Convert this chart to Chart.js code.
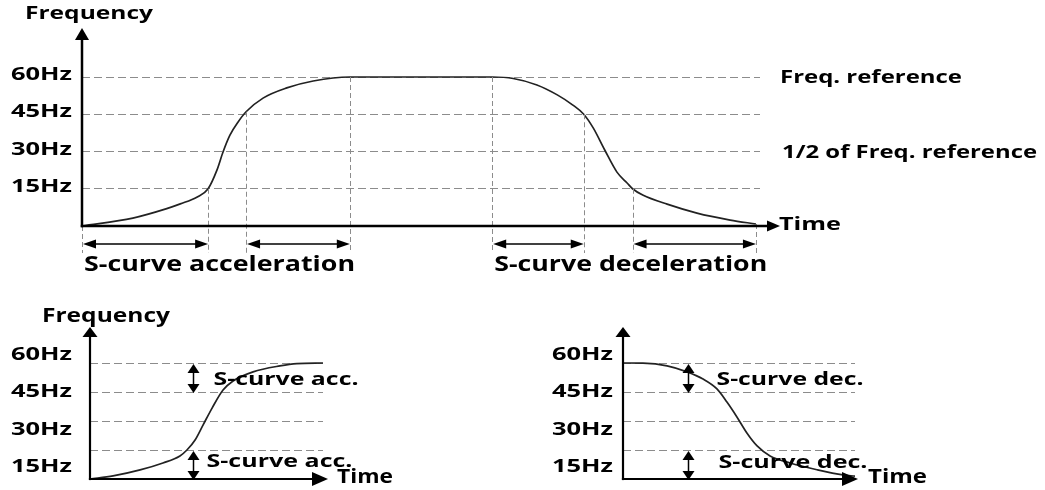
<!DOCTYPE html>
<html>
<head>
<meta charset="utf-8">
<title>S-curve acceleration / deceleration</title>
<script src="https://cdn.jsdelivr.net/npm/chart.js@4.4.1/dist/chart.umd.min.js"></script>
<style>
  html, body { margin: 0; padding: 0; background: #fff; }
  body { width: 1045px; height: 490px; position: relative; overflow: hidden; }
  .box { position: absolute; }
  #box-main { left: 0; top: 0; width: 1045px; height: 290px; }
  #box-acc { left: 0; top: 290px; width: 520px; height: 200px; }
  #box-dec { left: 520px; top: 290px; width: 525px; height: 200px; }
</style>
</head>
<body>
<div class="box" id="box-main"><canvas id="chart-main"></canvas></div>
<div class="box" id="box-acc"><canvas id="chart-acc"></canvas></div>
<div class="box" id="box-dec"><canvas id="chart-dec"></canvas></div>

<script>
'use strict';

// frequency axis
const freqTicks = [15, 30, 45, 60];
const freqLabels = ['15Hz', '30Hz', '45Hz', '60Hz'];

// full profile (time in arbitrary units 0-100, frequency in Hz)
const mainTime = [0, 7.5, 12.5, 14.5, 17.0, 18.6, 19.9, 20.8, 21.8, 23.0, 24.2, 26.7, 30.2, 34.1, 39.5,
                  60.5, 63.6, 67.1, 70.1, 72.4, 74.0, 75.4, 77.1, 78.9, 80.4, 81.2, 82.7, 86.3, 90.7, 95.6, 99.4];
const mainFreq = [0, 3.2, 7.0, 8.9, 11.7, 15, 22.5, 29.8, 36.5, 41.8, 46, 51.5, 55.6, 58.4, 60,
                  60, 59.4, 56.8, 52.8, 48.7, 45, 39.5, 30.6, 21.7, 17.3, 15, 12.5, 8.8, 5.2, 2.4, 0.8];
const accMarks = [0, 18.6, 24.2, 39.5];
const decMarks = [60.5, 74.0, 81.2, 99.4];

// detail: acceleration
const accTime = [0, 9.9, 21.5, 31.3, 38.6, 41.6, 45.1, 48.5, 52.4, 57.1, 61.4, 70.0, 81.5, 88.8, 100];
const accFreq = [0, 1.6, 4.7, 8.3, 11.9, 15, 20.2, 27.9, 36.7, 46, 50.7, 55.4, 58.5, 59.7, 60];

// detail: deceleration
const decTime = [0, 8.6, 19.0, 27.6, 34.5, 40.5, 44.8, 49.1, 53.4, 57.8, 63.4, 72.0, 83.6, 94.8, 100];
const decFreq = [60, 59.9, 58.5, 55.4, 51.7, 46.6, 39.8, 32.1, 23.8, 17.1, 11.9, 8.3, 4.8, 2.1, 1.5];

// S-curve bands marked on the detail charts
const bandRanges = [[45, 60], [0, 15]];
const accBandTime = 44.3;
const decBandTime = 28.1;

const INK = '#000';
const CURVE = '#222';
const GRID = '#8c8c8c';
const FONT = '"Open Sans", "Noto Sans", sans-serif';

// the reference lettering is horizontally stretched, so text is scaled to a width
function drawText(ctx, text, x, y, size, width, align) {
    ctx.save();
    ctx.font = '700 ' + size + 'px ' + FONT;
    const w = ctx.measureText(text).width;
    ctx.translate(x, y);
    ctx.scale(width / w, 1);
    ctx.textAlign = align || 'left';
    ctx.textBaseline = 'middle';
    ctx.fillStyle = INK;
    ctx.fillText(text, 0, 0);
    ctx.restore();
}

function head(ctx, x, y, ang, len, half) {
    const c = Math.cos(ang), s = Math.sin(ang);
    ctx.beginPath();
    ctx.moveTo(x, y);
    ctx.lineTo(x - len * c - half * s, y - len * s + half * c);
    ctx.lineTo(x - len * c + half * s, y - len * s - half * c);
    ctx.closePath();
    ctx.fill();
}

function arrow(ctx, x1, y1, x2, y2, len, half, width, both) {
    const ang = Math.atan2(y2 - y1, x2 - x1);
    const c = Math.cos(ang), s = Math.sin(ang);
    ctx.save();
    ctx.strokeStyle = INK;
    ctx.fillStyle = INK;
    ctx.lineWidth = width;
    ctx.beginPath();
    ctx.moveTo(both ? x1 + c * (len - 1) : x1, both ? y1 + s * (len - 1) : y1);
    ctx.lineTo(x2 - c * (len - 1), y2 - s * (len - 1));
    ctx.stroke();
    head(ctx, x2, y2, ang, len, half);
    if (both) head(ctx, x1, y1, ang + Math.PI, len, half);
    ctx.restore();
}

function axes(ctx, x0, y0, xTip, yTip, xHead, yHead, width) {
    arrow(ctx, x0, y0 + width / 2, x0, yTip, yHead[0], yHead[1], width);
    arrow(ctx, x0 - width / 2, y0, xTip, y0, xHead[0], xHead[1], width);
}

const mainDecor = {
    id: 'mainDecor',
    afterDraw(chart) {
        const { ctx, chartArea: a, scales: { x, y } } = chart;
        const x0 = x.getPixelForValue(0);
        const y0 = y.getPixelForValue(0);

        // dashed guides from the curve down past the time axis
        ctx.save();
        ctx.strokeStyle = GRID;
        ctx.lineWidth = 1;
        ctx.setLineDash([5, 3]);
        accMarks.concat(decMarks).forEach(t => {
            const f = mainFreq[mainTime.indexOf(t)];
            const px = Math.round(x.getPixelForValue(t)) + 0.5;
            ctx.beginPath();
            ctx.moveTo(px, y.getPixelForValue(f));
            ctx.lineTo(px, y0 + 27);
            ctx.stroke();
        });
        ctx.restore();

        [accMarks, decMarks].forEach(m => {
            arrow(ctx, x.getPixelForValue(m[0]) + 1, y0 + 18, x.getPixelForValue(m[1]), y0 + 18, 13, 4.5, 1.5, true);
            arrow(ctx, x.getPixelForValue(m[2]) + 1, y0 + 18, x.getPixelForValue(m[3]), y0 + 18, 13, 4.5, 1.5, true);
        });

        drawText(ctx, 'Time', a.right + 19, y0 - 1, 18, 62, 'left');
        axes(ctx, x0, y0, a.right + 20, a.top - 49, [13, 5.5], [12, 7], 2.5);

        drawText(ctx, 'Frequency', a.left - 57, a.top - 63, 18, 128, 'left');
        freqTicks.forEach((v, i) => {
            drawText(ctx, freqLabels[i], a.left - 10, y.getPixelForValue(v) - 2, 18, 61, 'right');
        });
        drawText(ctx, 'Freq. reference', a.right + 20, y.getPixelForValue(60) + 1, 18, 182, 'left');
        drawText(ctx, '1/2 of Freq. reference', a.right + 22, y.getPixelForValue(30) + 1, 18, 255, 'left');
        drawText(ctx, 'S-curve acceleration', x.getPixelForValue(accMarks[0]) + 2, y0 + 39, 22, 271, 'left');
        drawText(ctx, 'S-curve deceleration', x.getPixelForValue(decMarks[0]) + 2, y0 + 39, 22, 273, 'left');
    }
};

// tick labels of the small charts sit on a wider pitch than their grid
const LABEL_PITCH = 37.5;

function detailDecor(id, bandTime, text, opts) {
    return {
        id: id,
        afterDraw(chart) {
            const { ctx, chartArea: a, scales: { x, y } } = chart;
            const x0 = x.getPixelForValue(0);
            const y0 = y.getPixelForValue(0);
            const bx = Math.round(x.getPixelForValue(bandTime)) + 0.5;

            bandRanges.forEach((r, i) => {
                arrow(ctx, bx, y.getPixelForValue(r[1]) + 1, bx, y.getPixelForValue(r[0]) + 1, 9, 6, 1.5, true);
                const mid = y.getPixelForValue((r[0] + r[1]) / 2);
                drawText(ctx, text, bx + opts.textDx[i], mid + opts.textDy[i], 18, opts.textW[i], 'left');
            });

            drawText(ctx, 'Time', a.right + opts.timeDx, y0 - 1, 19, opts.timeW, 'left');
            axes(ctx, x0, y0, a.right + opts.tipDx, a.top - 36, [16, 7], [10, 7.5], 2.2);

            if (opts.title) drawText(ctx, 'Frequency', a.left - 48, a.top - 46, 19, 128, 'left');
            const p45 = y.getPixelForValue(45);
            freqTicks.forEach((v, i) => {
                drawText(ctx, freqLabels[i], a.left - opts.tickDx, p45 + (45 - v) * LABEL_PITCH / 15, 18, 61, 'right');
            });
        }
    };
}

function makeChart(id, times, freqs, area, decor) {
    const points = times.map((t, i) => ({ x: t, y: freqs[i] }));
    return new Chart(document.getElementById(id), {
        type: 'line',
        data: {
            datasets: [{
                data: points,
                borderColor: CURVE,
                borderWidth: 1.7,
                pointRadius: 0,
                cubicInterpolationMode: 'monotone',
                clip: false
            }]
        },
        options: {
            responsive: true,
            maintainAspectRatio: false,
            animation: false,
            events: [],
            layout: { padding: { left: 0, top: area.top, right: area.right, bottom: area.bottom } },
            plugins: { legend: { display: false }, tooltip: { enabled: false } },
            scales: {
                x: { type: 'linear', min: 0, max: 100, display: false },
                y: {
                    min: 0,
                    max: 60,
                    afterFit: s => { s.width = area.left; },
                    ticks: { display: false, stepSize: 15 },
                    border: { display: false, dash: [8, 4] },
                    grid: {
                        drawTicks: false,
                        lineWidth: 1,
                        color: c => freqTicks.includes(c.tick.value) ? GRID : 'rgba(0,0,0,0)'
                    }
                }
            }
        },
        plugins: [decor]
    });
}

document.addEventListener('DOMContentLoaded', () => {
    makeChart('chart-main', mainTime, mainFreq, { left: 82, top: 77, right: 285, bottom: 64 }, mainDecor);
    makeChart('chart-acc', accTime, accFreq, { left: 90, top: 73, right: 197, bottom: 11 },
        detailDecor('accDecor', accBandTime, 'S-curve acc.', {
            title: true, textDx: [20, 13], textDy: [2.5, -2.5], textW: [145, 146],
            timeDx: 14, timeW: 56, tipDx: 5, tickDx: 18
        }));
    makeChart('chart-dec', decTime, decFreq, { left: 103, top: 73, right: 190, bottom: 11 },
        detailDecor('decDecor', decBandTime, 'S-curve dec.', {
            title: false, textDx: [28, 30], textDy: [2.5, -1.5], textW: [147, 149],
            timeDx: 13, timeW: 59, tipDx: 3, tickDx: 10
        }));
});
</script>
</body>
</html>
